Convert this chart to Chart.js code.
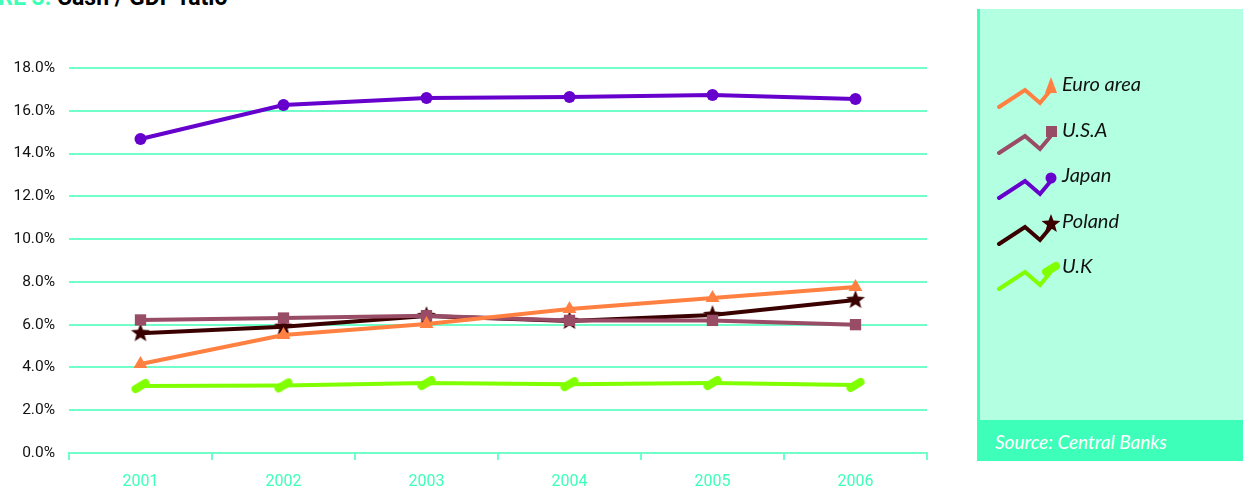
<!DOCTYPE html>
<html>
<head>
<meta charset="utf-8">
<script src="https://cdn.jsdelivr.net/npm/chart.js@4"></script>
<style>
  body { margin: 0; width: 1243px; height: 486px; background: #fff; position: relative; overflow: hidden; font-family: Roboto, "Noto Sans", sans-serif; }
  #title { position: absolute; left: -52px; top: -16px; font-size: 23px; font-weight: bold; white-space: nowrap; }
  #title .num { color: #3dffb9; }
  #wrap { position: absolute; left: 0; top: 0; width: 960px; height: 486px; }
  #panel { position: absolute; left: 977px; top: 9px; width: 266px; height: 452px; background: #b3ffe2; border-left: 3px solid #3dffb9; box-sizing: border-box; }
  #legend { position: absolute; left: 14px; top: 60px; }
  .item { height: 45.5px; display: flex; align-items: flex-start; }
  .item canvas { display: block; }
  .item span { font-style: italic; font-size: 20px; color: #111; margin-left: 2px; margin-top: 2px; font-family: Lato, "Open Sans", sans-serif; }
  #source { position: absolute; left: 0; bottom: 0; width: 100%; height: 41px; background: #3dffb9; color: #fff; font-style: italic; font-size: 19px; padding-left: 15px; line-height: 44px; box-sizing: border-box; font-family: Lato, "Open Sans", sans-serif; }
</style>
</head>
<body>
<div id="title"><span class="num">FIGURE 3:</span> Cash / GDP ratio</div>
<div id="wrap"><canvas id="cashChart"></canvas></div>
<div id="panel">
  <div id="legend"></div>
  <div id="source">Source: Central Banks</div>
</div>
<script>
// data
const years = ["2001", "2002", "2003", "2004", "2005", "2006"];
const euroArea = [4.16, 5.52, 6.03, 6.73, 7.25, 7.76];
const usa = [6.22, 6.31, 6.42, 6.2, 6.2, 6.0];
const japan = [14.68, 16.27, 16.6, 16.64, 16.74, 16.55];
const poland = [5.6, 5.9, 6.4, 6.17, 6.45, 7.15];
const uk = [3.13, 3.16, 3.27, 3.22, 3.27, 3.18];
const yTicks = [0, 2, 4, 6, 8, 10, 12, 14, 16, 18];

// custom markers
function starMarker(color, r) {
    const c = document.createElement('canvas');
    c.width = c.height = r * 2 + 2;
    const g = c.getContext('2d');
    g.fillStyle = color;
    g.beginPath();
    for (let i = 0; i < 10; i++) {
        const rad = i % 2 ? r * 0.42 : r;
        const a = -Math.PI / 2 + i * Math.PI / 5;
        g.lineTo(r + 1 + rad * Math.cos(a), r + 1 + rad * Math.sin(a));
    }
    g.closePath();
    g.fill();
    return c;
}

function capsuleMarker(color) {
    const c = document.createElement('canvas');
    c.width = 22; c.height = 18;
    const g = c.getContext('2d');
    g.strokeStyle = color;
    g.lineWidth = 8;
    g.lineCap = 'round';
    g.beginPath();
    g.moveTo(6, 12);
    g.lineTo(16, 6);
    g.stroke();
    return c;
}

const series = [
    { label: "Euro area", data: euroArea, color: "#ff8040", style: "triangle", radius: 8 },
    { label: "U.S.A", data: usa, color: "#994c66", style: "rect", radius: 8 },
    { label: "Japan", data: japan, color: "#6600cc", style: "circle", radius: 6 },
    { label: "Poland", data: poland, color: "#3a0000", style: starMarker("#3a0000", 10), radius: 10 },
    { label: "U.K", data: uk, color: "#80ff00", style: capsuleMarker("#80ff00"), radius: 9 }
];

const gridGreen = "#70ffc8";

new Chart(document.getElementById('cashChart'), {
    type: 'line',
    data: {
        labels: years,
        datasets: series.map(s => ({
            label: s.label,
            data: s.data,
            borderColor: s.color,
            backgroundColor: s.color,
            borderWidth: 4,
            pointStyle: s.style,
            pointRadius: s.radius,
            pointBorderWidth: 0,
            pointBackgroundColor: s.color,
            tension: 0
        }))
    },
    options: {
        responsive: true,
        maintainAspectRatio: false,
        animation: false,
        layout: { padding: { top: 68, right: 33, bottom: 0, left: 0 } },
        plugins: { legend: { display: false }, tooltip: { enabled: false } },
        scales: {
            x: {
                offset: true,
                grid: { offset: true, drawOnChartArea: false, drawTicks: true, tickLength: 7, color: gridGreen, lineWidth: 2 },
                border: { color: gridGreen, width: 2 },
                ticks: { color: "#3dffb9", font: { size: 16, family: "Roboto" }, padding: 12 },
                afterFit: scale => { scale.height = 33; }
            },
            y: {
                min: 0,
                max: 18,
                afterBuildTicks: scale => { scale.ticks = yTicks.map(v => ({ value: v })); },
                grid: { color: gridGreen, lineWidth: 2, drawTicks: false },
                border: { display: false },
                ticks: {
                    color: "#111",
                    font: { size: 15.5, family: "Roboto" },
                    padding: 14,
                    callback: v => v.toFixed(1) + '%'
                },
                afterFit: scale => { scale.width = 69; }
            }
        }
    }
});

// legend panel
const legend = document.getElementById('legend');
series.forEach(s => {
    const item = document.createElement('div');
    item.className = 'item';
    const c = document.createElement('canvas');
    c.width = 66; c.height = 40;
    const g = c.getContext('2d');
    g.strokeStyle = s.color;
    g.lineWidth = 4;
    g.lineCap = 'round';
    g.lineJoin = 'miter';
    g.beginPath();
    g.moveTo(5, 38);
    g.lineTo(31, 21);
    g.lineTo(46, 34);
    g.lineTo(56, 22);
    g.stroke();
    g.fillStyle = s.color;
    const mx = 57, my = 18;
    if (s.style === 'triangle') {
        g.beginPath(); g.moveTo(mx, my - 10); g.lineTo(mx + 6, my + 6); g.lineTo(mx - 6, my + 6); g.closePath(); g.fill();
    } else if (s.style === 'rect') {
        g.fillRect(mx - 5, my - 7, 11, 11);
    } else if (s.style === 'circle') {
        g.beginPath(); g.arc(mx, my, 5.5, 0, Math.PI * 2); g.fill();
    } else {
        g.drawImage(s.style, mx - s.style.width / 2, my - s.style.height / 2);
    }
    item.appendChild(c);
    const t = document.createElement('span');
    t.textContent = s.label;
    item.appendChild(t);
    legend.appendChild(item);
});
</script>
</body>
</html>
